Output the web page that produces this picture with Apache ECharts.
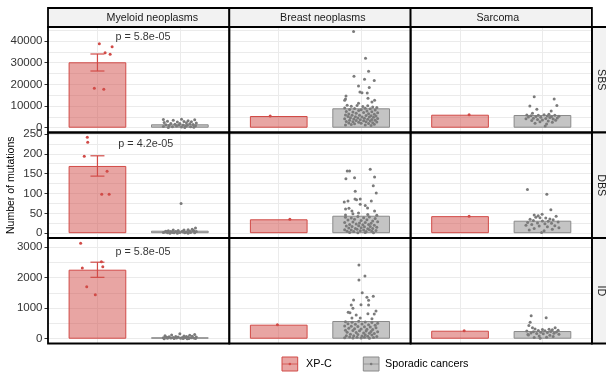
<!DOCTYPE html>
<html>
<head>
<meta charset="utf-8">
<script src="https://cdn.jsdelivr.net/npm/echarts@6/dist/echarts.min.js"></script>
<style>
  html, body { margin: 0; padding: 0; background: #ffffff; }
  #chart { width: 606px; height: 373px; }
</style>
</head>
<body>
<div id="chart"></div>
<script>
// ---------- facets and groups ----------
const cancerTypes = ['Myeloid neoplasms', 'Breast neoplasms', 'Sarcoma'];
const signatureTypes = ['SBS', 'DBS', 'ID'];
const groupNames = ['XP-C', 'Sporadic cancers'];

// ---------- y axis ticks per signature row ----------
const sbsTicks = [0, 10000, 20000, 30000, 40000];
const dbsTicks = [0, 50, 100, 150, 200, 250];
const idTicks = [0, 1000, 2000, 3000];
const sbsGridLines = [0, 5000, 10000, 15000, 20000, 25000, 30000, 35000, 40000, 45000];
const dbsGridLines = [0, 25, 50, 75, 100, 125, 150, 175, 200, 225, 250];
const idGridLines = [0, 500, 1000, 1500, 2000, 2500, 3000];
const rowMin = [-2210, -12.1, -157];
const rowMax = [46480, 253.7, 3301];

// ---------- bar heights (mean number of mutations) ----------
const sbsXpcMean = [30190, 5400, 6000];
const sbsSporadicMean = [1570, 8960, 5870];
const dbsXpcMean = [169.4, 35, 43];
const dbsSporadicMean = [6.3, 44, 31.5];
const idXpcMean = [2262, 460, 262];
const idSporadicMean = [46, 580, 252];

// ---------- error bars (myeloid XP-C, mean ± SE) ----------
const xpcErrLow = [26170, 143.8, 2012];
const xpcErrHigh = [34020, 195, 2508];

// ---------- p-values (myeloid XP-C vs sporadic) ----------
const pValueLabels = ['p = 5.8e-05', 'p = 4.2e-05', 'p = 5.8e-05'];
const pValueX = [1.553, 1.587, 1.553];
const pValueY = [41700, 224, 2851];

// ---------- individual samples: [jitter offset, mutations] ----------
const sbsMyeloidXpc = [[0.023, 38770], [0.178, 37390], [0.093, 34620], [0.154, 33880], [-0.038, 18190], [0.077, 17730]];
const sbsMyeloidSporadic = [[-0.2, 3800], [0.02, 3950], [0.18, 3700], [-0.08, 3400], [0.1, 3200], [-0.15, 3000], [0.05, 2900], [0.14, 2750], [-0.03, 2600], [-0.19, 2400], [0.08, 2300], [0.2, 2150], [-0.11, 2000], [0.0, 1900], [0.12, 1800], [-0.06, 1650], [0.16, 1500], [-0.17, 1400], [0.04, 1300], [-0.01, 1200], [0.09, 1100], [-0.13, 1000], [0.19, 900], [-0.04, 800], [0.07, 700], [-0.2, 600], [0.13, 500], [-0.09, 400], [0.02, 300], [0.17, 250], [-0.14, 150], [0.06, 100]];
const sbsBreastXpc = [[-0.104, 5400]];
const sbsBreastSporadic = [[-0.092, 44400], [0.053, 32000], [0.09, 26100], [-0.087, 23800], [0.041, 22400], [0.159, 21800], [-0.032, 19300], [0.098, 18600], [-0.015, 16500], [0.01, 16100], [0.074, 16000], [-0.184, 14600], [-0.19, 13300], [-0.2, 12700], [0.163, 12700], [-0.032, 11300], [0.131, 11900], [0.083, 13600],
  [-0.17, 10400], [-0.12, 9900], [-0.05, 10200], [0.02, 9800], [0.08, 10100], [0.14, 9600], [0.19, 9300], [-0.2, 9100], [-0.08, 8900], [0.05, 9000], [0.11, 8700], [-0.14, 8400], [0.0, 8300], [0.17, 8200], [-0.03, 7900], [0.07, 7700], [-0.18, 7500], [0.13, 7400], [-0.1, 7200], [0.03, 7000], [0.2, 6900], [-0.06, 6700], [0.09, 6500], [-0.15, 6300], [0.16, 6200],
  [-0.19, 5900], [-0.11, 5800], [-0.02, 5700], [0.06, 5600], [0.12, 5500], [0.18, 5400], [-0.16, 5200], [-0.07, 5100], [0.01, 5000], [0.1, 4900], [0.15, 4800], [-0.13, 4600], [-0.04, 4500], [0.04, 4400], [0.2, 4300], [-0.2, 4100], [-0.09, 4000], [0.08, 3900], [0.13, 3800], [-0.01, 3700], [-0.14, 3500], [0.17, 3400], [-0.06, 3300], [0.03, 3200], [0.11, 3100], [-0.18, 2900], [-0.1, 2800], [0.06, 2700], [0.19, 2600], [-0.03, 2500], [0.14, 2300], [-0.15, 2200], [0.0, 2100], [0.09, 1900], [-0.08, 1800], [0.16, 1600], [-0.12, 1500], [0.05, 1300], [-0.19, 1200], [0.12, 1000]];
const sbsSarcomaXpc = [[0.11, 6000]];
const sbsSarcomaSporadic = [[-0.1, 14300], [0.142, 13250], [-0.153, 10000], [0.175, 10300], [-0.068, 8500], [0.106, 7700], [-0.121, 6650], [0.078, 6200], [-0.19, 5900], [-0.05, 5800], [0.02, 6000], [0.15, 5700], [-0.14, 5500], [0.06, 5400], [0.2, 5300], [-0.08, 5200], [0.11, 5100], [-0.17, 4900], [-0.02, 4800], [0.09, 4700], [0.18, 4500], [-0.11, 4400], [0.04, 4300], [-0.2, 4100], [0.13, 4000], [-0.06, 3800], [0.0, 3600], [0.16, 3500], [-0.13, 3300], [0.07, 3100], [-0.03, 2800], [0.12, 2500], [-0.09, 2100], [0.05, 1700], [0.033, 800]];

const dbsMyeloidXpc = [[-0.123, 241.6], [-0.118, 229], [-0.16, 193.7], [0.117, 155.9], [0.052, 98], [0.142, 98]];
const dbsMyeloidSporadic = [[0.015, 75], [0.19, 13], [0.15, 10], [0.1, 9], [0.05, 8], [-0.02, 7], [-0.08, 8], [-0.14, 6], [0.17, 6], [0.12, 5], [0.03, 5], [-0.05, 4], [-0.11, 4], [-0.18, 3], [0.08, 3], [0.2, 4], [-0.2, 2], [0.0, 2], [0.13, 2], [-0.07, 1], [-0.15, 1], [0.06, 1], [0.18, 1], [-0.03, 0], [0.1, 0], [-0.12, 0], [0.04, 3], [-0.17, 5], [0.16, 7], [-0.09, 2]];
const dbsBreastXpc = [[0.135, 35]];
const dbsBreastSporadic = [[-0.169, 156.7], [-0.141, 156.7], [0.11, 161], [-0.185, 137], [-0.08, 140], [0.163, 141.6], [0.147, 119.6], [-0.072, 105.5], [0.183, 101], [-0.075, 86], [-0.056, 84], [-0.011, 86], [-0.205, 78.6], [-0.16, 81], [0.123, 81], [0.05, 70], [-0.189, 61], [-0.148, 62.7], [-0.011, 72.8], [0.078, 63.5], [0.163, 56], [-0.112, 56], [-0.032, 51],
  [-0.19, 40], [-0.12, 38], [-0.04, 42], [0.03, 39], [0.1, 41], [0.17, 37], [-0.16, 33], [-0.08, 35], [0.0, 32], [0.07, 34], [0.14, 31], [0.2, 29], [-0.2, 27], [-0.1, 28], [-0.02, 26], [0.05, 27], [0.12, 25], [-0.14, 22], [-0.06, 23], [0.02, 21], [0.09, 22], [0.16, 20], [-0.18, 18], [-0.11, 17], [-0.03, 19], [0.04, 16], [0.11, 17], [0.19, 15], [-0.15, 13], [-0.07, 12], [0.0, 14], [0.08, 11], [0.14, 12], [-0.2, 9], [-0.12, 8], [-0.05, 10], [0.03, 8], [0.1, 9], [0.18, 7], [-0.17, 5], [-0.09, 4], [-0.01, 6], [0.06, 4], [0.13, 5], [-0.14, 2], [-0.04, 1], [0.05, 2], [0.15, 1], [-0.19, 46], [0.08, 47], [-0.1, 49], [0.19, 45]];
const dbsSarcomaXpc = [[0.11, 43]];
const dbsSarcomaSporadic = [[-0.182, 110], [0.053, 98], [0.102, 59], [-0.1, 46], [-0.052, 44], [-0.004, 48], [0.166, 43], [-0.08, 40], [-0.03, 39], [0.04, 38], [0.09, 36], [-0.15, 35], [0.13, 34], [-0.11, 32], [0.0, 31], [0.07, 30], [0.19, 28], [-0.18, 27], [-0.06, 26], [0.11, 25], [0.03, 24], [-0.13, 22], [-0.2, 20], [0.15, 19], [-0.04, 18], [0.06, 16], [0.2, 14], [-0.1, 12], [0.12, 10], [-0.16, 8], [0.02, 6], [-0.01, 2]];

const idMyeloidXpc = [[-0.204, 3127], [0.048, 2525], [0.065, 2360], [-0.184, 2317], [-0.13, 1704], [-0.026, 1442]];
const idMyeloidSporadic = [[0.0, 165], [0.18, 140], [-0.1, 120], [0.12, 110], [-0.18, 95], [0.05, 90], [0.15, 80], [-0.05, 75], [0.08, 70], [-0.13, 65], [0.2, 60], [-0.02, 55], [0.1, 50], [-0.16, 45], [0.03, 42], [-0.08, 38], [0.14, 35], [-0.2, 30], [0.06, 28], [-0.11, 25], [0.17, 22], [-0.04, 20], [0.01, 15], [-0.15, 12], [0.11, 10], [-0.07, 8], [0.19, 5], [0.04, 3], [-0.19, 2], [0.09, 1]];
const idBreastXpc = [[-0.016, 460]];
const idBreastSporadic = [[-0.027, 2416], [-0.027, 1924], [0.046, 2055], [0.013, 1508], [0.147, 1390], [0.07, 1357], [-0.092, 1268], [0.09, 1259], [-0.002, 1114], [0.09, 1105], [-0.12, 1105], [-0.1, 996], [-0.157, 865], [-0.06, 777], [0.159, 810], [0.082, 820], [-0.136, 852], [0.18, 908], [-0.011, 678], [0.131, 655], [-0.112, 678],
  [-0.19, 560], [-0.11, 540], [-0.03, 575], [0.05, 550], [0.13, 530], [0.2, 510], [-0.16, 490], [-0.07, 470], [0.01, 480], [0.09, 460], [0.17, 445], [-0.2, 420], [-0.12, 410], [-0.04, 400], [0.04, 390], [0.11, 380], [0.18, 360], [-0.15, 340], [-0.08, 330], [0.0, 320], [0.07, 310], [0.14, 300], [-0.19, 280], [-0.1, 270], [-0.02, 260], [0.06, 250], [0.12, 240], [0.2, 225], [-0.17, 210], [-0.06, 200], [0.03, 190], [0.1, 180], [0.16, 170], [-0.13, 150], [-0.04, 140], [0.05, 130], [0.13, 120], [-0.18, 100], [-0.09, 95], [0.01, 90], [0.08, 80], [0.19, 70], [-0.14, 55], [-0.05, 50], [0.04, 45], [0.15, 40], [-0.2, 30], [-0.1, 25], [0.0, 20], [0.1, 15]];
const idSarcomaXpc = [[0.05, 262]];
const idSarcomaSporadic = [[-0.137, 750], [0.045, 690], [-0.149, 540], [-0.165, 430], [0.154, 360], [-0.121, 360], [-0.177, 140], [-0.028, 15], [-0.09, 320], [0.0, 300], [0.08, 310], [0.12, 290], [0.19, 280], [-0.05, 270], [0.03, 260], [-0.19, 250], [0.1, 240], [-0.11, 230], [0.17, 220], [-0.02, 210], [0.06, 200], [-0.14, 190], [0.14, 180], [-0.07, 170], [0.01, 160], [0.2, 150], [-0.17, 120], [0.09, 110], [-0.04, 90], [0.13, 70], [0.05, 50], [-0.1, 40]];

// ---------- styling ----------
const FONT = '"Liberation Sans", Arial, Helvetica, sans-serif';
const RED = '#D14B47';
const RED_FILL = 'rgba(209, 75, 71, 0.5)';
const GREY_LINE = '#8A8A8A';
const GREY_FILL = '#C4C4C4';
const GREY_POINT = '#7B7B7B';
const GRID_COLOR = '#EBEBEB';
const STRIP_FILL = '#F2F2F2';
const BORDER_W = 1.8;

// ---------- facet layout (pixels) ----------
const panelLeft = [48, 229.3, 410.6];
const panelWidth = 181.3;
const panelTop = [27, 132.5, 238];
const panelHeight = 105.5;
const stripHeight = 19;
const stripTop = panelTop[0] - stripHeight;
const rightStripLeft = panelLeft[2] + panelWidth;
const barWidthPx = 0.7 / 2.2 * panelWidth;
const errorCapWidth = 0.17;
const groupPos = [1, 2];

// ---------- per-row lookup tables built from the arrays above ----------
const rowTicks = [sbsTicks, dbsTicks, idTicks];
const rowGridLines = [sbsGridLines, dbsGridLines, idGridLines];
const rowXpcMean = [sbsXpcMean, dbsXpcMean, idXpcMean];
const rowSporadicMean = [sbsSporadicMean, dbsSporadicMean, idSporadicMean];
const rowXpcPoints = [
  [sbsMyeloidXpc, sbsBreastXpc, sbsSarcomaXpc],
  [dbsMyeloidXpc, dbsBreastXpc, dbsSarcomaXpc],
  [idMyeloidXpc, idBreastXpc, idSarcomaXpc]
];
const rowSporadicPoints = [
  [sbsMyeloidSporadic, sbsBreastSporadic, sbsSarcomaSporadic],
  [dbsMyeloidSporadic, dbsBreastSporadic, dbsSarcomaSporadic],
  [idMyeloidSporadic, idBreastSporadic, idSarcomaSporadic]
];

const grids = [];
const xAxes = [];
const yAxes = [];
const series = [];
const graphics = [];

for (let r = 0; r < 3; r++) {
  for (let c = 0; c < 3; c++) {
    const g = grids.length;
    grids.push({
      left: panelLeft[c], top: panelTop[r], width: panelWidth, height: panelHeight,
      show: true, backgroundColor: '#ffffff', borderWidth: 0,
      containLabel: false, outerBoundsMode: 'none'
    });
    xAxes.push({
      gridIndex: g, type: 'value', min: 0.4, max: 2.6,
      axisLine: { show: false },
      axisTick: { show: false, customValues: groupPos },
      axisLabel: { show: false },
      splitLine: { show: true, lineStyle: { color: GRID_COLOR, width: 1 } }
    });
    // grid-line axis (major + minor breaks)
    const lineAxis = yAxes.length;
    yAxes.push({
      gridIndex: g, type: 'value', min: rowMin[r], max: rowMax[r],
      axisLine: { show: false },
      axisTick: { show: false, customValues: rowGridLines[r] },
      axisLabel: { show: false },
      splitLine: { show: true, lineStyle: { color: GRID_COLOR, width: 1 } }
    });
    // labelled axis on the left column
    if (c === 0) {
      yAxes.push({
        gridIndex: g, type: 'value', min: rowMin[r], max: rowMax[r], position: 'left',
        axisLine: { show: false },
        axisTick: { show: true, length: 3.5, customValues: rowTicks[r], lineStyle: { color: '#333333', width: 1 } },
        axisLabel: {
          show: true, customValues: rowTicks[r], margin: 5.5, color: '#333333',
          fontSize: 11.5, fontFamily: FONT, formatter: v => String(v)
        },
        splitLine: { show: false }
      });
    }

    // bars
    series.push({
      type: 'bar', xAxisIndex: g, yAxisIndex: lineAxis, barWidth: barWidthPx,
      silent: true, animation: false,
      data: [
        { value: [groupPos[0], rowXpcMean[r][c]], itemStyle: { color: RED_FILL, borderColor: RED, borderWidth: 1 } },
        { value: [groupPos[1], rowSporadicMean[r][c]], itemStyle: { color: GREY_FILL, borderColor: GREY_LINE, borderWidth: 1 } }
      ]
    });

    // error bar for the XP-C myeloid group
    if (c === 0) {
      series.push({
        type: 'custom', xAxisIndex: g, yAxisIndex: lineAxis, silent: true, animation: false,
        data: [[groupPos[0], xpcErrLow[r], xpcErrHigh[r]]],
        encode: { x: 0, y: [1, 2] },
        renderItem: function (params, api) {
          const x = api.value(0);
          const lo = api.coord([x, api.value(1)]);
          const hi = api.coord([x, api.value(2)]);
          const half = api.size([errorCapWidth, 0])[0] / 2;
          const style = { stroke: RED, lineWidth: 1.2 };
          return {
            type: 'group',
            children: [
              { type: 'line', shape: { x1: hi[0], y1: hi[1], x2: lo[0], y2: lo[1] }, style: style },
              { type: 'line', shape: { x1: hi[0] - half, y1: hi[1], x2: hi[0] + half, y2: hi[1] }, style: style },
              { type: 'line', shape: { x1: lo[0] - half, y1: lo[1], x2: lo[0] + half, y2: lo[1] }, style: style }
            ]
          };
        }
      });
    }

    // individual samples
    series.push({
      type: 'scatter', xAxisIndex: g, yAxisIndex: lineAxis, silent: true, animation: false,
      symbolSize: 3, itemStyle: { color: GREY_POINT, opacity: 1 },
      data: rowSporadicPoints[r][c].map(p => [groupPos[1] + p[0], p[1]])
    });
    series.push({
      type: 'scatter', xAxisIndex: g, yAxisIndex: lineAxis, silent: true, animation: false,
      symbolSize: 3, itemStyle: { color: RED, opacity: 1 },
      data: rowXpcPoints[r][c].map(p => [groupPos[0] + p[0], p[1]])
    });

    // p-value annotation
    if (c === 0) {
      series.push({
        type: 'scatter', xAxisIndex: g, yAxisIndex: lineAxis, silent: true, animation: false,
        symbolSize: 0,
        data: [[pValueX[r], pValueY[r]]],
        label: {
          show: true, position: 'inside', formatter: pValueLabels[r],
          color: '#000000', fontSize: 10.8, fontFamily: FONT
        }
      });
    }
  }
}

// panel borders, drawn above the grid lines
for (let r = 0; r < 3; r++) {
  for (let c = 0; c < 3; c++) {
    graphics.push({
      type: 'rect', z: 20, silent: true,
      shape: { x: panelLeft[c], y: panelTop[r], width: panelWidth, height: panelHeight },
      style: { fill: null, stroke: '#000000', lineWidth: BORDER_W }
    });
  }
}

// top facet strips
for (let c = 0; c < 3; c++) {
  graphics.push({
    type: 'rect', z: 10,
    shape: { x: panelLeft[c], y: stripTop, width: panelWidth, height: stripHeight },
    style: { fill: STRIP_FILL, stroke: '#000000', lineWidth: BORDER_W }
  });
}
const stripTextX = [152.3, 322.8, 497.8];
for (let c = 0; c < 3; c++) {
  graphics.push({
    type: 'text', z: 11, x: stripTextX[c], y: stripTop + stripHeight / 2 + 0.5,
    style: { text: cancerTypes[c], fill: '#1A1A1A', font: '10.7px ' + FONT, align: 'center', verticalAlign: 'middle' }
  });
}
// right facet strips
for (let r = 0; r < 3; r++) {
  graphics.push({
    type: 'rect', z: 10,
    shape: { x: rightStripLeft, y: panelTop[r], width: stripHeight, height: panelHeight },
    style: { fill: STRIP_FILL, stroke: '#000000', lineWidth: BORDER_W }
  });
  graphics.push({
    type: 'text', z: 11, x: rightStripLeft + stripHeight / 2 - 0.5, y: panelTop[r] + panelHeight / 2,
    rotation: -Math.PI / 2,
    style: { text: signatureTypes[r], fill: '#1A1A1A', font: '10.7px ' + FONT, align: 'center', verticalAlign: 'middle' }
  });
}
// y axis title
graphics.push({
  type: 'text', z: 11, x: 11, y: (panelTop[0] + panelTop[2] + panelHeight) / 2,
  rotation: Math.PI / 2,
  style: { text: 'Number of mutations', fill: '#000000', font: '10.5px ' + FONT, align: 'center', verticalAlign: 'middle' }
});

// legend
const legendKeyX = [282, 363.3];
const legendTextX = [306, 385];
const legendY = 357;
const legendKeyW = 15.7;
const legendKeyH = 14;
const legendFill = [RED_FILL, GREY_FILL];
const legendLine = [RED, GREY_LINE];
const legendPoint = [RED, GREY_POINT];
for (let i = 0; i < 2; i++) {
  const cy = legendY + legendKeyH / 2;
  graphics.push({
    type: 'rect', z: 10,
    shape: { x: legendKeyX[i], y: legendY, width: legendKeyW, height: legendKeyH },
    style: { fill: legendFill[i], stroke: legendLine[i], lineWidth: 1 }
  });
  graphics.push({
    type: 'line', z: 11,
    shape: { x1: legendKeyX[i], y1: cy, x2: legendKeyX[i] + legendKeyW, y2: cy },
    style: { stroke: legendLine[i], lineWidth: 0.8 }
  });
  graphics.push({
    type: 'circle', z: 12,
    shape: { cx: legendKeyX[i] + legendKeyW / 2, cy: cy, r: 1.3 },
    style: { fill: legendPoint[i] }
  });
  graphics.push({
    type: 'text', z: 11, x: legendTextX[i], y: cy + 0.5,
    style: { text: groupNames[i], fill: '#000000', font: '10.8px ' + FONT, align: 'left', verticalAlign: 'middle' }
  });
}

const chart = echarts.init(document.getElementById('chart'), null, { renderer: 'canvas' });
chart.setOption({
  animation: false,
  backgroundColor: '#ffffff',
  textStyle: { fontFamily: FONT },
  grid: grids,
  xAxis: xAxes,
  yAxis: yAxes,
  series: series,
  graphic: graphics
});
</script>
</body>
</html>
